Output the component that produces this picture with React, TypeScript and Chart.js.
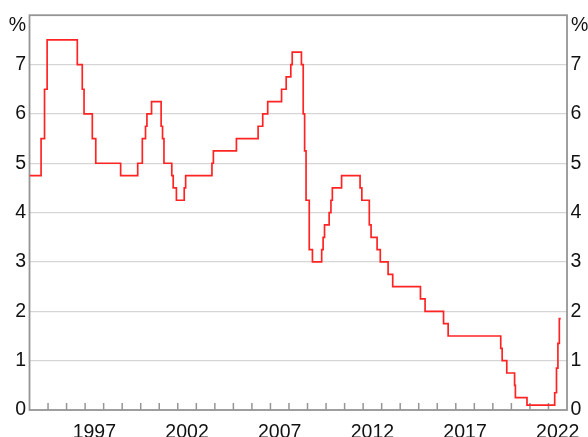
import React, { useEffect, useRef } from "react";
import { Chart, registerables } from "chart.js";

Chart.register(...registerables);

// Change dates of the rate (value holds from that date on)
const changeDates: string[] = [
  "1994-01-01", "1994-08-17", "1994-10-24", "1994-12-14", "1996-07-31", "1996-11-06",
  "1996-12-11", "1997-05-23", "1997-07-30", "1998-12-02", "1999-11-03", "2000-02-02",
  "2000-04-05", "2000-05-03", "2000-08-02", "2001-02-07", "2001-03-07", "2001-04-04",
  "2001-09-05", "2001-10-03", "2001-12-05", "2002-05-08", "2002-06-05", "2003-11-05",
  "2003-12-03", "2005-03-02", "2006-05-03", "2006-08-02", "2006-11-08", "2007-08-08",
  "2007-11-07", "2008-02-06", "2008-03-05", "2008-09-03", "2008-10-08", "2008-11-05",
  "2008-12-03", "2009-02-04", "2009-04-08", "2009-10-07", "2009-11-04", "2009-12-02",
  "2010-03-03", "2010-04-07", "2010-05-05", "2010-11-03", "2011-11-02", "2011-12-07",
  "2012-05-02", "2012-06-06", "2012-10-03", "2012-12-05", "2013-05-08", "2013-08-07",
  "2015-02-04", "2015-05-06", "2016-05-04", "2016-08-03", "2019-06-05", "2019-07-03",
  "2019-10-02", "2020-03-04", "2020-03-20", "2020-11-04", "2022-05-04", "2022-06-08",
  "2022-07-06", "2022-08-03", "2022-08-31",
];

const cashRate: number[] = [
  4.75, 5.5, 6.5, 7.5, 7.0, 6.5,
  6.0, 5.5, 5.0, 4.75, 5.0, 5.5,
  5.75, 6.0, 6.25, 5.75, 5.5, 5.0,
  4.75, 4.5, 4.25, 4.5, 4.75, 5.0,
  5.25, 5.5, 5.75, 6.0, 6.25, 6.5,
  6.75, 7.0, 7.25, 7.0, 6.0, 5.25,
  4.25, 3.25, 3.0, 3.25, 3.5, 3.75,
  4.0, 4.25, 4.5, 4.75, 4.5, 4.25,
  3.75, 3.5, 3.25, 3.0, 2.75, 2.5,
  2.25, 2.0, 1.75, 1.5, 1.25, 1.0,
  0.75, 0.5, 0.25, 0.1, 0.35, 0.85,
  1.35, 1.85, 1.85,
];

const xLabelYears: number[] = [1997, 2002, 2007, 2012, 2017, 2022];
const xMinYear = 1994;
const xMaxYear = 2023;
const yTickValues: number[] = [0, 1, 2, 3, 4, 5, 6, 7, 8];

const FONT = "'Liberation Sans', Arial, sans-serif";
const FONT_SIZE = 19.5;
const TEXT_COLOR = "#111111";
const FRAME_COLOR = "#959595";

function toDecimalYear(s: string): number {
  const [y, m, d] = s.split("-").map(Number);
  const start = Date.UTC(y, 0, 1);
  const end = Date.UTC(y + 1, 0, 1);
  return y + (Date.UTC(y, m - 1, d) - start) / (end - start);
}

const framePlugin = {
  id: "frameAndTicks",
  beforeDatasetsDraw(chart: any) {
    const { ctx, chartArea, scales } = chart;
    const { left, right, top, bottom } = chartArea;
    ctx.save();
    ctx.strokeStyle = FRAME_COLOR;
    ctx.lineWidth = 1.8;
    ctx.strokeRect(left, top, right - left, bottom - top);
    ctx.beginPath();
    ctx.lineWidth = 1.5;
    for (let yr = xMinYear + 1; yr < xMaxYear; yr++) {
      const px = scales.x.getPixelForValue(yr);
      ctx.moveTo(px, bottom);
      ctx.lineTo(px, bottom - 7);
    }
    ctx.stroke();
    ctx.fillStyle = TEXT_COLOR;
    ctx.font = `${FONT_SIZE}px ${FONT}`;
    ctx.textBaseline = "middle";
    const py = scales.y.getPixelForValue(8) + 10;
    ctx.textAlign = "right";
    ctx.fillText("%", left - 3.5, py);
    ctx.textAlign = "left";
    ctx.fillText("%", right + 4, py);
    ctx.restore();
  },
};

export default function App() {
  const canvasRef = useRef<HTMLCanvasElement | null>(null);

  useEffect(() => {
    if (!canvasRef.current) return;
    const points = changeDates.map((d, i) => ({ x: toDecimalYear(d), y: cashRate[i] }));
    const yScaleBase = {
      min: 0,
      max: 8,
      border: { display: false },
      afterBuildTicks: (axis: any) => {
        axis.ticks = yTickValues.map((v) => ({ value: v }));
      },
      ticks: {
        callback: (v: any) => (v === 8 ? "" : String(v)),
        font: { family: FONT, size: FONT_SIZE },
        color: TEXT_COLOR,
        padding: 3.5,
      },
    };
    const chart = new Chart(canvasRef.current, {
      type: "line",
      data: {
        datasets: [
          {
            data: points,
            borderColor: "rgb(255,36,36)",
            borderWidth: 1.7,
            pointRadius: 0,
            stepped: "before",
            fill: false,
          },
        ],
      },
      options: {
        animation: false,
        responsive: false,
        devicePixelRatio: 1,
        layout: { padding: { top: 14.5, left: 0, right: 0, bottom: 0 } },
        plugins: {
          legend: { display: false },
          tooltip: { enabled: false },
          title: { display: false },
        },
        scales: {
          x: {
            type: "linear",
            min: xMinYear,
            max: xMaxYear,
            position: "bottom",
            grid: { display: false },
            border: { display: false },
            afterBuildTicks: (axis: any) => {
              axis.ticks = xLabelYears.map((y) => ({ value: y + 0.5 }));
            },
            afterFit: (axis: any) => {
              axis.height = 27;
            },
            ticks: {
              callback: (v: any) => String(Math.floor(Number(v))),
              autoSkip: false,
              maxRotation: 0,
              font: { family: FONT, size: FONT_SIZE },
              color: TEXT_COLOR,
              padding: 3,
            },
          },
          y: {
            ...yScaleBase,
            type: "linear",
            position: "left",
            grid: {
              drawTicks: false,
              color: (c: any) =>
                c.tick && c.tick.value > 0 && c.tick.value < 8 ? "#d6d6d6" : "rgba(0,0,0,0)",
              lineWidth: 1.3,
            },
            afterFit: (axis: any) => {
              axis.width = 29.5;
            },
          },
          y2: {
            ...yScaleBase,
            type: "linear",
            position: "right",
            grid: { display: false, drawTicks: false },
            afterFit: (axis: any) => {
              axis.width = 21;
            },
          },
        },
      } as any,
      plugins: [framePlugin],
    });
    return () => chart.destroy();
  }, []);

  return (
    <div style={{ position: "fixed", left: 0, top: 0, width: 588, height: 437, background: "#fff" }}>
      <canvas ref={canvasRef} width={588} height={437} />
    </div>
  );
}
